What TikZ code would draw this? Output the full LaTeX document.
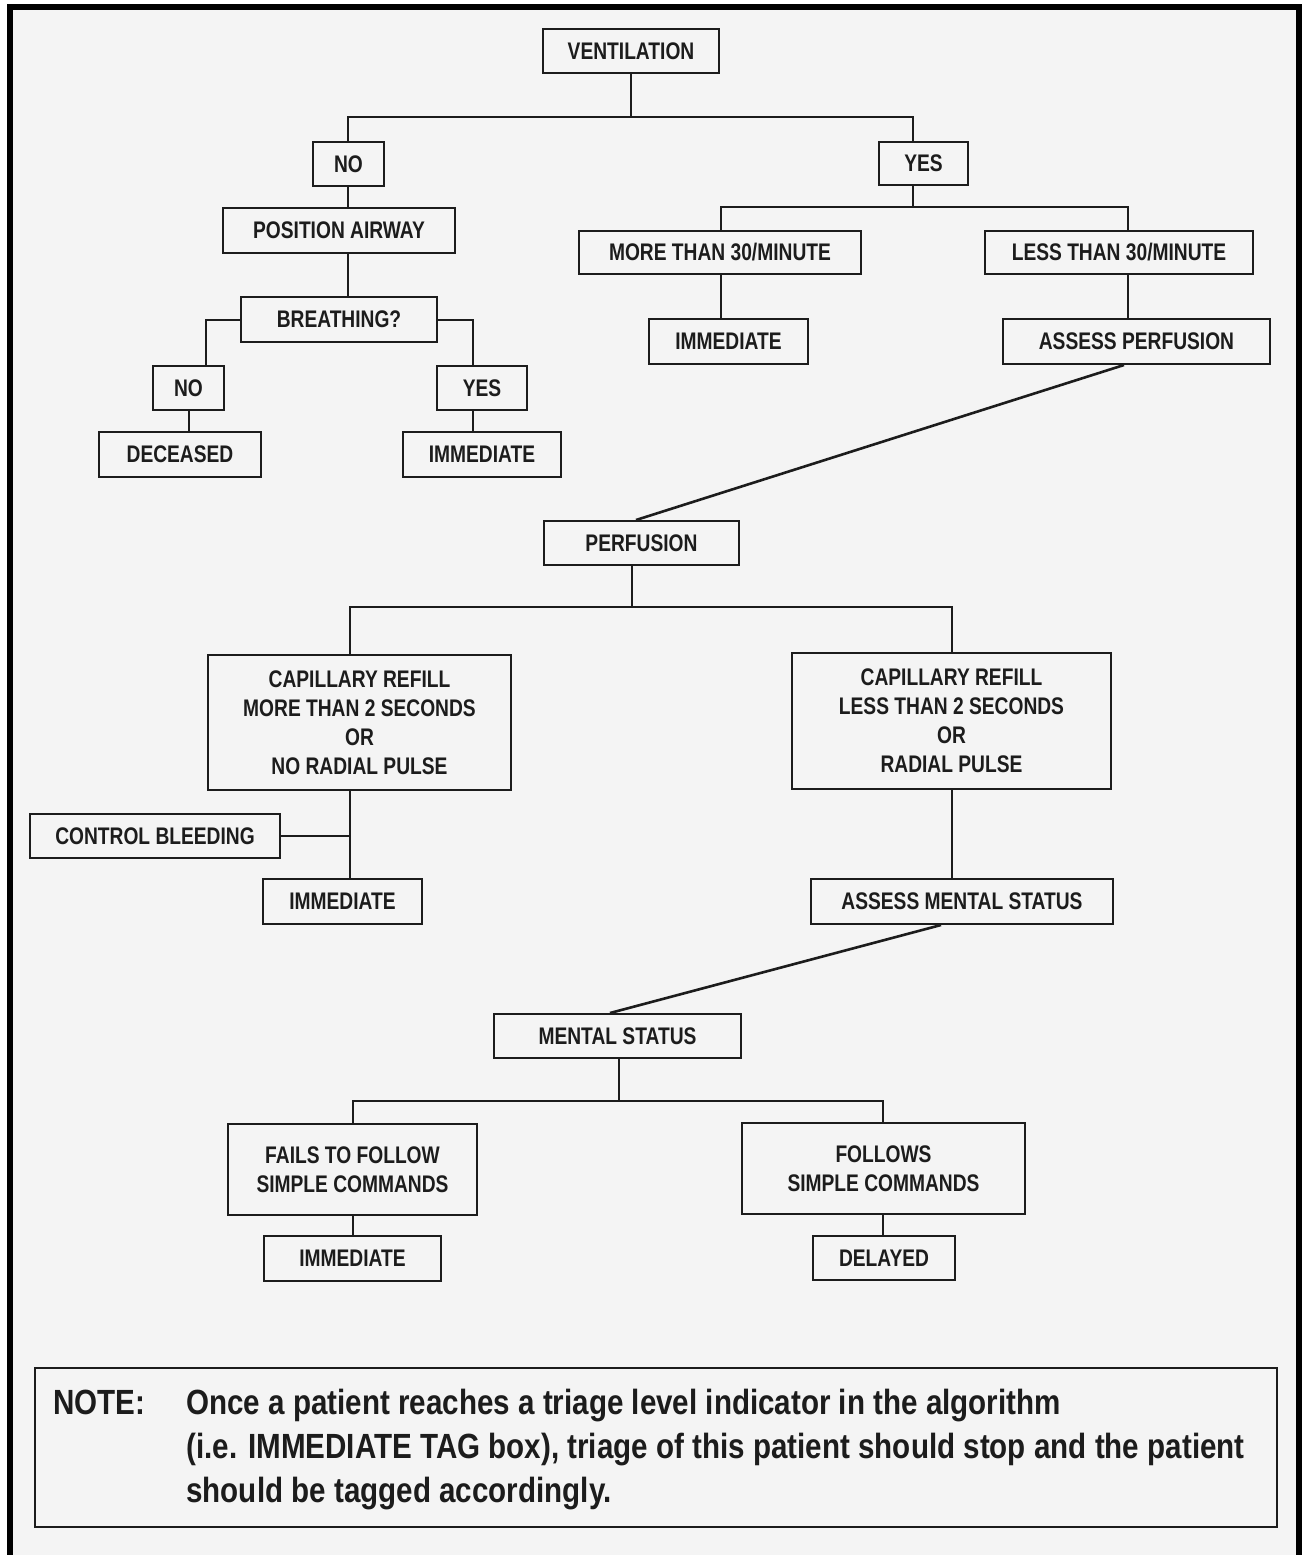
\documentclass[tikz,border=0pt]{standalone}
\usepackage{fontspec}
\setmainfont{Liberation Sans}[FakeStretch=0.80,BoldFont={Liberation Sans Bold}]
\newfontfamily\notefont{Liberation Sans Bold}[FakeStretch=0.845]
\definecolor{bg}{RGB}{244,244,244}
\definecolor{ink}{RGB}{28,28,28}
\newcommand\boxfont{\bfseries\fontsize{12}{14.5}\selectfont}
\newcommand\mkbox[6]{\node[box, minimum width={(#4-#2)*0.5pt}, minimum height={(#5-#3)*0.5pt}] (#1) at ({(#2+#4)/2},{(#3+#5)/2}) {#6};}
\tikzset{
  box/.style={draw=ink, line width=1pt, inner sep=0pt, align=center, font=\boxfont, text=ink},
  conn/.style={draw=ink, line width=1pt},
  diag/.style={draw=ink, line width=1.3pt},
  notetext/.style={anchor=base west, inner sep=0pt, font=\notefont\fontsize{17.5}{22}\selectfont, text=ink}
}
\begin{document}
\begin{tikzpicture}[x=0.5pt,y=-0.5pt]
\useasboundingbox (0,0) rectangle (1302,1555);
\fill[white] (0,0) rectangle (1302,1555);
\fill[bg] (13,10) rectangle (1296,1555);
\fill[black] (7,4) rectangle (1302,10);
\fill[black] (7,4) rectangle (13,1555);
\fill[black] (1296,4) rectangle (1302,1555);

% columns and junctions
\coordinate (cA) at (348,0);
\coordinate (cB) at (206,0);
\coordinate (cC) at (473,0);
\coordinate (cD) at (913,0);
\coordinate (cE) at (721,0);
\coordinate (cF) at (1128,0);
\coordinate (cG) at (632,0);
\coordinate (cH) at (350,0);
\coordinate (cI) at (952,0);
\coordinate (cJ) at (619,0);
\coordinate (cK) at (353,0);
\coordinate (cL) at (883,0);
\coordinate (cM) at (1124,0);
\coordinate (cN) at (636,0);
\coordinate (cO) at (941,0);
\coordinate (cP) at (610,0);
\coordinate (j1) at (631,117);
\coordinate (j2) at (913,207);
\coordinate (j3) at (632,607);
\coordinate (j4) at (619,1101);

% boxes
\mkbox{vent}{543}{29}{719}{73}{VENTILATION}
\mkbox{noA}{313}{142}{384}{186}{NO}
\mkbox{yesA}{879}{142}{968}{185}{YES}
\mkbox{posair}{223}{208}{455}{253}{POSITION AIRWAY}
\mkbox{more}{579}{231}{861}{274}{MORE THAN 30/MINUTE}
\mkbox{less}{985}{231}{1253}{274}{LESS THAN 30/MINUTE}
\mkbox{breath}{241}{297}{437}{342}{BREATHING?}
\mkbox{immA}{649}{319}{808}{364}{IMMEDIATE}
\mkbox{assp}{1003}{319}{1270}{364}{ASSESS PERFUSION}
\mkbox{noB}{153}{366}{224}{410}{NO}
\mkbox{yesB}{437}{366}{527}{410}{YES}
\mkbox{dead}{99}{432}{261}{477}{DECEASED}
\mkbox{immB}{403}{432}{561}{477}{IMMEDIATE}
\mkbox{perf}{544}{521}{739}{565}{PERFUSION}
\mkbox{capmore}{208}{655}{511}{790}{CAPILLARY REFILL\\MORE THAN 2 SECONDS\\OR\\NO RADIAL PULSE}
\mkbox{capless}{792}{653}{1111}{789}{CAPILLARY REFILL\\LESS THAN 2 SECONDS\\OR\\RADIAL PULSE}
\mkbox{ctrl}{30}{814}{280}{858}{CONTROL BLEEDING}
\mkbox{immC}{263}{879}{422}{924}{IMMEDIATE}
\mkbox{assm}{811}{879}{1113}{924}{ASSESS MENTAL STATUS}
\mkbox{mental}{494}{1014}{741}{1058}{MENTAL STATUS}
\mkbox{fails}{228}{1124}{477}{1215}{FAILS TO FOLLOW\\SIMPLE COMMANDS}
\mkbox{follows}{742}{1123}{1025}{1214}{FOLLOWS\\SIMPLE COMMANDS}
\mkbox{immD}{264}{1236}{441}{1281}{IMMEDIATE}
\mkbox{delayed}{813}{1236}{955}{1280}{DELAYED}
\mkbox{note}{35}{1368}{1277}{1527}{}

% note text
\node[notetext] (notelbl) at (53,1414) {NOTE:};
\node[notetext] (noteA) at (186,1414) {Once a patient reaches a triage level indicator in the algorithm};
\node[notetext] (noteB) at (186,1458) {(i.e. IMMEDIATE TAG box), triage of this patient should stop and the patient};
\node[notetext] (noteC) at (186,1502) {should be tagged accordingly.};

% connectors
\draw[conn] (vent.south) -- (j1);
\draw[conn] (noA.north -| cA) |- (j1) -| (yesA.north -| cD);
\draw[conn] (noA.south -| cA) -- (posair.north -| cA);
\draw[conn] (posair.south -| cA) -- (breath.north -| cA);
\draw[conn] (breath.west) -| (noB.north -| cB);
\draw[conn] (breath.east) -| (yesB.north -| cC);
\draw[conn] (noB.south) -- (noB.south |- dead.north);
\draw[conn] (yesB.south -| cC) -- (immB.north -| cC);
\draw[conn] (yesA.south -| cD) -- (j2);
\draw[conn] (more.north -| cE) |- (j2) -| (less.north -| cF);
\draw[conn] (more.south -| cE) -- (immA.north -| cE);
\draw[conn] (less.south -| cF) -- (assp.north -| cF);
\draw[diag] (assp.south -| cM) -- (perf.north -| cN);
\draw[conn] (perf.south -| cG) -- (j3);
\draw[conn] (capmore.north -| cH) |- (j3) -| (capless.north -| cI);
\draw[conn] (capmore.south -| cH) -- (immC.north -| cH);
\draw[conn] (ctrl.east) -- (ctrl.east -| cH);
\draw[conn] (capless.south -| cI) -- (assm.north -| cI);
\draw[diag] (assm.south -| cO) -- (mental.north -| cP);
\draw[conn] (mental.south -| cJ) -- (j4);
\draw[conn] (fails.north -| cK) |- (j4) -| (follows.north -| cL);
\draw[conn] (fails.south -| cK) -- (immD.north -| cK);
\draw[conn] (follows.south -| cL) -- (delayed.north -| cL);
\end{tikzpicture}
\end{document}
